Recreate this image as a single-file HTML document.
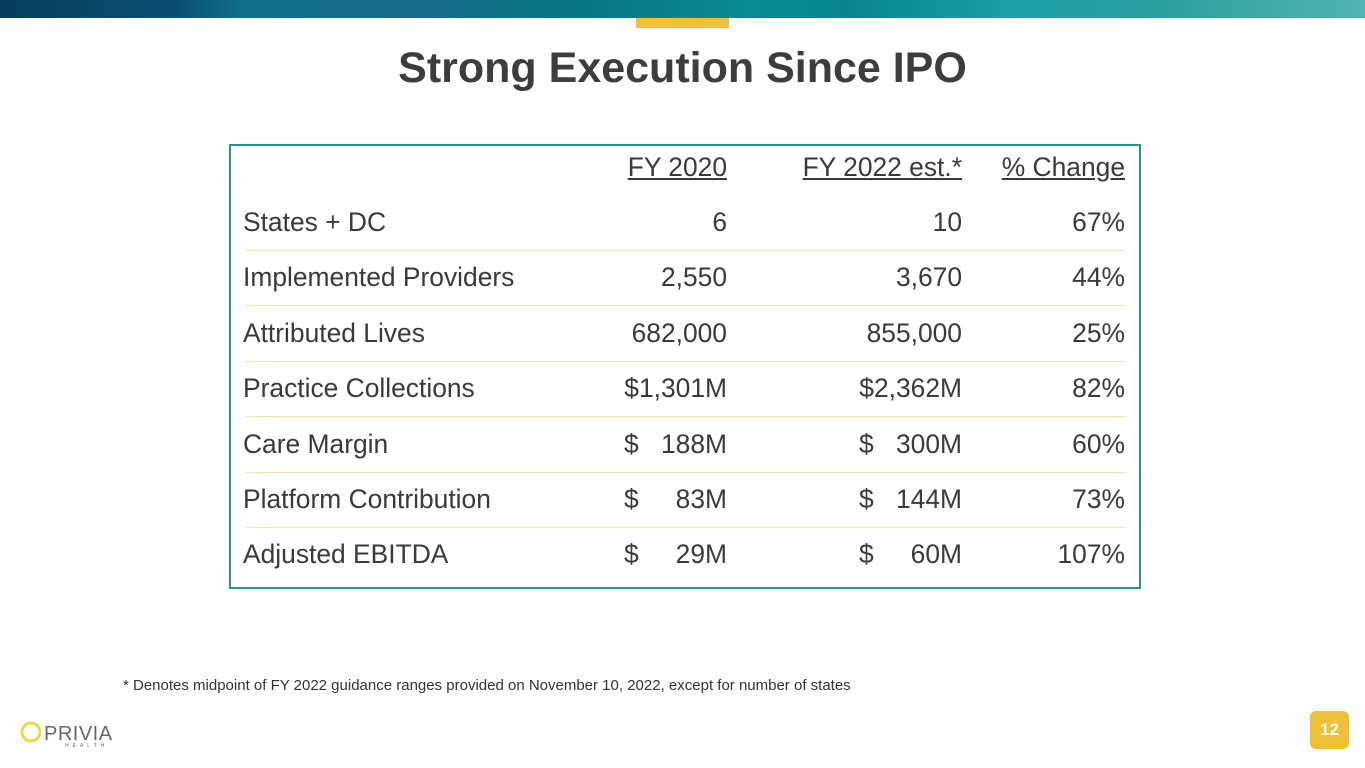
<!DOCTYPE html>
<html><head><meta charset="utf-8"><style>
body{margin:0;width:1365px;height:768px;background:#fff;position:relative;overflow:hidden;font-family:"Liberation Sans",sans-serif;}
.banner{position:absolute;left:0;top:0;width:1365px;height:18px;background:linear-gradient(90deg,#073f5a 0%,#0b4f75 13%,#10718a 18%,#1a6a8c 30%,#067480 40%,#0b8a90 55%,#0a8590 62%,#20a0a4 75%,#2aa0a0 85%,#50b4b0 100%);}
.tab{position:absolute;left:636px;top:18px;width:93px;height:10px;background:#f0c036;}
h1{position:absolute;left:0;width:1365px;top:44px;margin:0;text-align:center;font-size:43px;font-weight:bold;color:#3d3d3d;}
.box{position:absolute;left:229px;top:144px;width:908px;height:441px;border:2px solid #2a9488;}
.cell{position:absolute;font-size:26.4px;color:#3a3a3a;white-space:nowrap;}
.r{text-align:right;}
.hdr{text-decoration:underline;}
.sep{position:absolute;left:245px;width:880px;height:1px;background:#f6e4a6;}
.foot{position:absolute;left:123px;top:677px;font-size:15px;color:#333;}
.pg{position:absolute;left:1310px;top:711px;width:39px;height:38px;background:#f0c036;border-radius:6px;color:#fff;font-weight:bold;font-size:17px;text-align:center;line-height:38px;}
.logo{position:absolute;left:20px;top:720px;}
</style></head><body>
<div class="banner"></div>
<div class="tab"></div>
<h1>Strong Execution Since IPO</h1>
<div class="box"></div>
<div id="rows"></div>
<div class="foot">* Denotes midpoint of FY 2022 guidance ranges provided on November 10, 2022, except for number of states</div>
<div class="logo">
<svg width="110" height="28"><circle cx="11" cy="12" r="9" fill="none" stroke="#f0d84a" stroke-width="3"/><text x="24" y="20" font-family="Liberation Sans" font-size="20" fill="#666" letter-spacing="0.5">PRIVIA</text><text x="45" y="27" font-family="Liberation Sans" font-size="5" fill="#666" letter-spacing="4">HEALTH</text></svg>
</div>
<div class="pg">12</div>
<script>
const labels=["States + DC","Implemented Providers","Attributed Lives","Practice Collections","Care Margin","Platform Contribution","Adjusted EBITDA"];
const fy2020=[["","6"],["","2,550"],["","682,000"],["","$1,301M"],["$","188M"],["$","83M"],["$","29M"]];
const fy2022=[["","10"],["","3,670"],["","855,000"],["","$2,362M"],["$","300M"],["$","144M"],["$","60M"]];
const change=["67%","44%","25%","82%","60%","73%","107%"];
const c=document.getElementById('rows');
function add(txt,x,y,w,cls,name){const d=document.createElement('div');d.className='cell '+cls;d.textContent=txt;d.style.left=x+'px';d.style.top=y+'px';if(w)d.style.width=w+'px';


c.appendChild(d);}
add('FY 2020',527,152,200,'r hdr','header-fy2020');
add('FY 2022 est.*',712,152,250,'r hdr','header-fy2022');
add('% Change',925,152,200,'r hdr','header-change');
labels.forEach((l,i)=>{const y=207+i*55.4;
add(l,243,y,0,'','row-label');
if(fy2020[i][0])add(fy2020[i][0],624,y,0,'','currency-fy2020');
add(fy2020[i][1],527,y,200,'r','value-fy2020');
if(fy2022[i][0])add(fy2022[i][0],859,y,0,'','currency-fy2022');
add(fy2022[i][1],762,y,200,'r','value-fy2022');
add(change[i],925,y,200,'r','value-change');
if(i<labels.length-1){const s=document.createElement('div');s.className='sep';s.style.top=(250+i*55.4)+'px';


c.appendChild(s);}
});
</script>
</body></html>
